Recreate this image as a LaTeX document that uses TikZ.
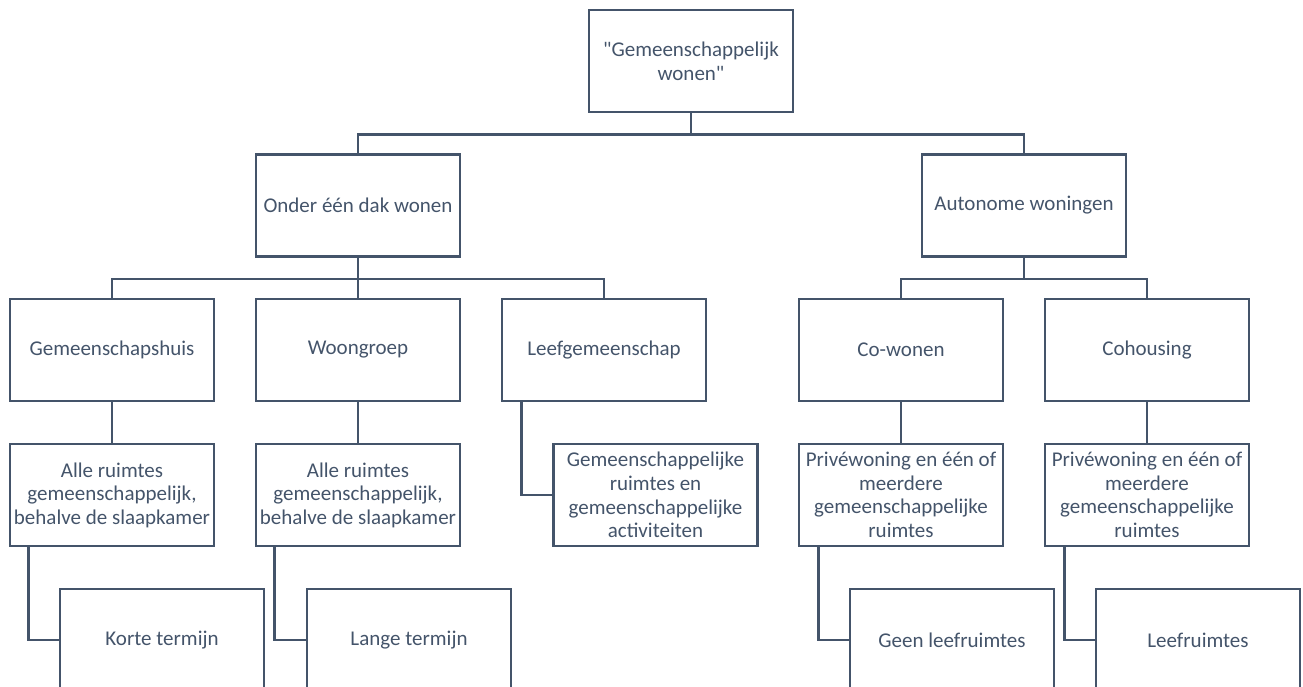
\documentclass[tikz,border=0pt]{standalone}
\usepackage{fontspec}
\setmainfont{Carlito}[Ligatures=TeXOff]
\definecolor{slate}{HTML}{44546A}

\begin{document}
\begin{tikzpicture}[x=1pt, y=-1pt,
  box/.style={draw=slate, line width=2.6pt, minimum width=204pt, minimum height=102pt,
    inner sep=0pt, align=center, text=slate, font=\fontsize{21}{23.6}\selectfont},
  link/.style={draw=slate, line width=2.6pt}]
  \clip (0,0) rectangle (1303,686);

  \node[box] (top) at (691,61) {"Gemeenschappelijk\\wonen"};

  \node[box] (onder) at (358,205.5) {Onder één dak wonen};
  \node[box] (auto) at (1024,205.5) {Autonome woningen};

  \node[box] (gemhuis) at (112,350) {Gemeenschapshuis};
  \node[box] (woongroep) at (358,350) {Woongroep};
  \node[box] (leefgem) at (604,350) {Leefgemeenschap};
  \node[box] (cowonen) at (901,350) {Co-wonen};
  \node[box] (cohousing) at (1147,350) {Cohousing};

  \node[box] (alle1) at (112,495) {Alle ruimtes\\gemeenschappelijk,\\behalve de slaapkamer};
  \node[box] (alle2) at (358,495) {Alle ruimtes\\gemeenschappelijk,\\behalve de slaapkamer};
  \node[box] (gemr) at (655.5,495) {Gemeenschappelijke\\ruimtes en\\gemeenschappelijke\\activiteiten};
  \node[box] (priv1) at (901,495) {Privéwoning en één of\\meerdere\\gemeenschappelijke\\ruimtes};
  \node[box] (priv2) at (1147,495) {Privéwoning en één of\\meerdere\\gemeenschappelijke\\ruimtes};

  \node[box] (korte) at (162,640) {Korte termijn};
  \node[box] (lange) at (409,640) {Lange termijn};
  \node[box] (geen) at (952,640) {Geen leefruimtes};
  \node[box] (leef) at (1198,640) {Leefruimtes};

  \draw[link] (top.south) -- ++(0,21) -| (onder.north);
  \draw[link] (top.south) -- ++(0,21) -| (auto.north);

  \draw[link] (onder.south) -- ++(0,21) -| (gemhuis.north);
  \draw[link] (onder.south) -- ++(0,21) -| (woongroep.north);
  \draw[link] (onder.south) -- ++(0,21) -| (leefgem.north);
  \draw[link] (auto.south) -- ++(0,21) -| (cowonen.north);
  \draw[link] (auto.south) -- ++(0,21) -| (cohousing.north);

  \draw[link] (gemhuis) -- (alle1);
  \draw[link] (woongroep) -- (alle2);
  \draw[link] ([xshift=21pt]leefgem.south west) |- (gemr.west);
  \draw[link] (cowonen) -- (priv1);
  \draw[link] (cohousing) -- (priv2);

  \draw[link] ([xshift=20pt]alle1.south west) |- (korte.west);
  \draw[link] ([xshift=20pt]alle2.south west) |- (lange.west);
  \draw[link] ([xshift=21pt]priv1.south west) |- (geen.west);
  \draw[link] ([xshift=21pt]priv2.south west) |- (leef.west);

\end{tikzpicture}
\end{document}
